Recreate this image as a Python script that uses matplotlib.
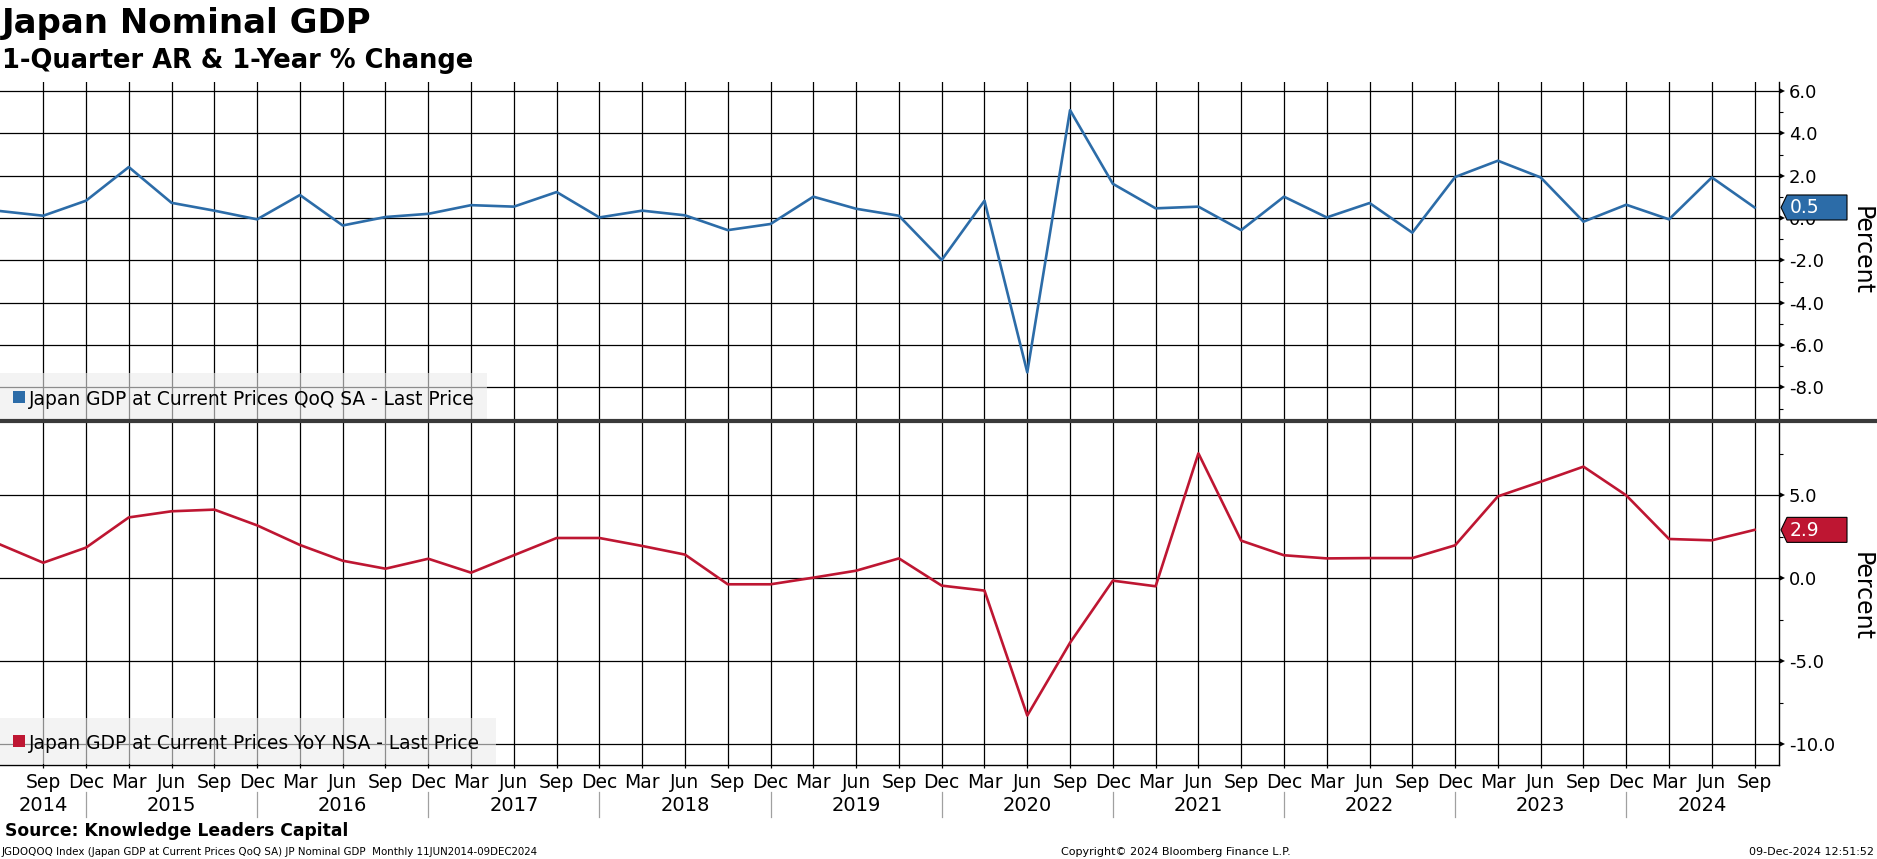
import matplotlib
matplotlib.use('Agg')
import matplotlib.pyplot as plt
import matplotlib.transforms as mtransforms
from matplotlib.patches import Polygon, Rectangle
from matplotlib.lines import Line2D

plt.rcParams['font.family'] = ['DejaVu Sans']

# ---------------- data ----------------
quarters = ['2014-06', '2014-09', '2014-12',
            '2015-03', '2015-06', '2015-09', '2015-12',
            '2016-03', '2016-06', '2016-09', '2016-12',
            '2017-03', '2017-06', '2017-09', '2017-12',
            '2018-03', '2018-06', '2018-09', '2018-12',
            '2019-03', '2019-06', '2019-09', '2019-12',
            '2020-03', '2020-06', '2020-09', '2020-12',
            '2021-03', '2021-06', '2021-09', '2021-12',
            '2022-03', '2022-06', '2022-09', '2022-12',
            '2023-03', '2023-06', '2023-09', '2023-12',
            '2024-03', '2024-06', '2024-09']

qoq_sa = [0.33, 0.11, 0.82, 2.41, 0.72, 0.35, -0.06, 1.09, -0.35, 0.05, 0.20,
          0.61, 0.54, 1.23, 0.03, 0.35, 0.13, -0.57, -0.28, 1.01, 0.44, 0.11,
          -1.98, 0.82, -7.29, 5.10, 1.62, 0.46, 0.54, -0.57, 1.01, 0.03, 0.71,
          -0.69, 1.94, 2.71, 1.92, -0.17, 0.63, -0.06, 1.92, 0.50]

yoy_nsa = [2.03, 0.94, 1.85, 3.67, 4.04, 4.14, 3.19, 2.01, 1.06, 0.58, 1.18,
           0.34, 1.39, 2.43, 2.43, 1.95, 1.43, -0.36, -0.36, 0.04, 0.46, 1.20,
           -0.44, -0.74, -8.27, -3.88, -0.14, -0.48, 7.53, 2.27, 1.39, 1.20,
           1.22, 1.22, 1.99, 4.94, 5.82, 6.73, 5.00, 2.37, 2.29, 2.92]

month_abbr = {'03': 'Mar', '06': 'Jun', '09': 'Sep', '12': 'Dec'}

top_major = [-8, -6, -4, -2, 0, 2, 4, 6]
top_minor = [-9, -7, -5, -3, -1, 1, 3, 5]
bot_major = [-10, -5, 0, 5]
bot_minor = [-7.5, -2.5, 2.5, 7.5]

title = 'Japan Nominal GDP'
subtitle = '1-Quarter AR & 1-Year % Change'
legend_top = 'Japan GDP at Current Prices QoQ SA - Last Price'
legend_bot = 'Japan GDP at Current Prices YoY NSA - Last Price'

BLUE = '#2c6ca8'
RED = '#be1632'

# ---------------- figure ----------------
W, H = 1877, 859
fig = plt.figure(figsize=(W / 100, H / 100), dpi=100)
TP = mtransforms.Affine2D().scale(1, -1).translate(0, H)  # top-origin pixels

AX_R = 1779
ax1 = fig.add_axes([0, 1 - 421 / H, AX_R / W, (421 - 82) / H])
ax2 = fig.add_axes([0, 1 - 765 / H, AX_R / W, (765 - 423) / H])

x = list(range(len(quarters)))
XL, XR = -0.01, 41.57

def style(ax, major, minor, ylim, fmt):
    ax.set_xlim(XL, XR)
    ax.set_ylim(*ylim)
    for s in ['left', 'top']:
        ax.spines[s].set_visible(False)
    ax.spines['right'].set_color('black')
    ax.spines['right'].set_linewidth(1.0)
    ax.yaxis.tick_right()
    ax.set_yticks(major)
    ax.set_yticklabels([fmt.format(v) for v in major])
    ax.set_yticks(minor, minor=True)
    ax.tick_params(axis='y', which='major', length=0, pad=7, labelsize=13)
    ax.tick_params(axis='y', which='minor', length=3, width=0.8, color='black')
    ax.set_xticks(x[1:])
    ax.set_xticklabels([])
    ax.yaxis.grid(True, which='major', color='black', lw=0.9)
    ax.xaxis.grid(True, color='black', lw=0.9)
    ax.set_axisbelow(True)
    tri = mtransforms.offset_copy(ax.transData, fig=fig, x=3, y=0, units='dots')
    for v in major:
        ax.plot([XR], [v], marker='>', ms=5, color='black', mew=0,
                transform=tri, clip_on=False, zorder=5)

style(ax1, top_major, top_minor, (-9.59, 6.43), '{:.1f}')
style(ax2, bot_major, bot_minor, (-11.25, 9.36), '{:.1f}')
ax1.spines['bottom'].set_visible(False)
ax1.tick_params(axis='x', length=0)
ax2.spines['bottom'].set_color('black')
ax2.spines['bottom'].set_linewidth(1.0)
ax2.tick_params(axis='x', length=2.5, width=0.9, color='black', direction='out')

ax1.plot(x, qoq_sa, color=BLUE, lw=1.9, zorder=3)
ax2.plot(x, yoy_nsa, color=RED, lw=1.9, zorder=3)

# separator
fig.add_artist(Line2D([0, W], [421, 421], transform=TP, color='#3a3a3a', lw=3.0, zorder=4))

# legends
for (y0, y1, sq0, base, txt, col, w) in [(373, 420, 391, 405, legend_top, BLUE, 487),
                                         (718, 764, 735, 749, legend_bot, RED, 496)]:
    fig.add_artist(Rectangle((0, y0), w, y1 - y0, transform=TP, facecolor='#ebebeb',
                             edgecolor='none', alpha=0.6, zorder=3))
    fig.add_artist(Rectangle((13, sq0), 12, 12, transform=TP, facecolor=col,
                             edgecolor='none', zorder=4))
    fig.text(29, base, txt, transform=TP, fontsize=13.4, va='baseline', ha='left',
             color='black', zorder=4)

# last value boxes
for ax, vals, col in [(ax1, qoq_sa, BLUE), (ax2, yoy_nsa, RED)]:
    v = vals[-1]
    yc = H - ax.transData.transform((0, v))[1]
    pts = [(1781, yc), (1787, yc - 12.5), (1847, yc - 12.5), (1847, yc + 12.5), (1787, yc + 12.5)]
    fig.add_artist(Polygon(pts, closed=True, transform=TP, facecolor=col,
                           edgecolor='black', lw=0.8, zorder=6))
    fig.text(1790, yc + 0.5, f'{v:.1f}', transform=TP, fontsize=13.5, color='white',
             va='center', ha='left', zorder=7)

# Percent labels
fig.text(1862, 251, 'Percent', transform=TP, rotation=270, fontsize=17,
         ha='center', va='center')
fig.text(1862, 596, 'Percent', transform=TP, rotation=270, fontsize=17,
         ha='center', va='center')

# x labels
bt = mtransforms.blended_transform_factory(ax2.transData, TP)
for i, q in enumerate(quarters):
    if i == 0:
        continue
    fig.text(i, 788, month_abbr[q[5:]], transform=bt, fontsize=13.5,
             ha='center', va='baseline')

dec_idx = [i for i, q in enumerate(quarters) if q.endswith('-12')]
bounds = [XL] + dec_idx + [XR]
years = sorted(set(q[:4] for q in quarters))
for k, yr in enumerate(years):
    cx = (bounds[k] + bounds[k + 1]) / 2
    fig.text(cx, 811, yr, transform=bt, fontsize=14, ha='center', va='baseline')
for d in dec_idx:
    fig.add_artist(Line2D([d, d], [792, 817], transform=bt, color='#a0a0a0', lw=0.9))

# titles
fig.text(2, 33, title, transform=TP, fontsize=24.5, weight='bold', va='baseline')
fig.text(2, 68, subtitle, transform=TP, fontsize=18.5, weight='bold', va='baseline')

# footers
fig.text(5, 836, 'Source: Knowledge Leaders Capital', transform=TP, fontsize=12.3,
         weight='bold', va='baseline')
fig.text(2, 855, 'JGDOQOQ Index (Japan GDP at Current Prices QoQ SA) JP Nominal GDP  Monthly 11JUN2014-09DEC2024',
         transform=TP, fontsize=7.4, va='baseline')
fig.text(1061, 855, 'Copyright\u00a9 2024 Bloomberg Finance L.P.', transform=TP,
         fontsize=8, va='baseline')
fig.text(1874, 855, '09-Dec-2024 12:51:52', transform=TP, fontsize=8,
         va='baseline', ha='right')

fig.savefig('out.png', dpi=100)
